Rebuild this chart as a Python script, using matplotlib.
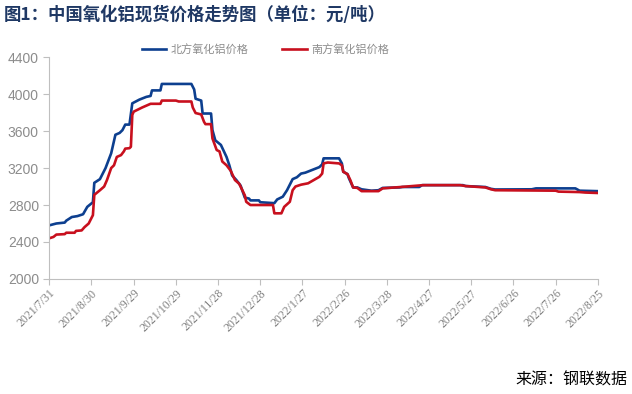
import matplotlib
matplotlib.use("Agg")
import matplotlib.pyplot as plt
import pandas as pd

plt.rcParams['font.family'] = ['Noto Sans CJK SC', 'DejaVu Sans']

# 北方氧化铝价格
north_dates = ["2021-07-31", "2021-08-05", "2021-08-11", "2021-08-12", "2021-08-16", "2021-08-20",
               "2021-08-24", "2021-08-27", "2021-08-31", "2021-09-01", "2021-09-05", "2021-09-09",
               "2021-09-13", "2021-09-16", "2021-09-19", "2021-09-21", "2021-09-23", "2021-09-26",
               "2021-09-28", "2021-10-03", "2021-10-08", "2021-10-11", "2021-10-12", "2021-10-18",
               "2021-10-19", "2021-11-09", "2021-11-11", "2021-11-12", "2021-11-16", "2021-11-17",
               "2021-11-23", "2021-11-24", "2021-11-26", "2021-11-30", "2021-12-04", "2021-12-06",
               "2021-12-08", "2021-12-11", "2021-12-14", "2021-12-17", "2021-12-20", "2021-12-21",
               "2021-12-27", "2021-12-28", "2022-01-07", "2022-01-09", "2022-01-13", "2022-01-16",
               "2022-01-20", "2022-01-23", "2022-01-26", "2022-01-29", "2022-02-08", "2022-02-10",
               "2022-02-11", "2022-02-22", "2022-02-24", "2022-02-25", "2022-02-28", "2022-03-01",
               "2022-03-04", "2022-03-07", "2022-03-10", "2022-03-17", "2022-03-22", "2022-03-25",
               "2022-04-06", "2022-04-08", "2022-04-20", "2022-04-22", "2022-05-21", "2022-05-23",
               "2022-06-06", "2022-06-10", "2022-06-13", "2022-07-09", "2022-07-12", "2022-08-09",
               "2022-08-12", "2022-08-25"]
north_vals = [2580, 2600, 2610, 2630, 2670, 2680,
              2700, 2780, 2830, 3040, 3080, 3200,
              3360, 3560, 3580, 3610, 3670, 3670,
              3900, 3940, 3970, 3980, 4040, 4040,
              4110, 4110, 4050, 3950, 3930, 3790,
              3790, 3610, 3500, 3450, 3320, 3230,
              3120, 3070, 3010, 2880, 2870, 2850,
              2850, 2830, 2820, 2860, 2890, 2960,
              3080, 3100, 3140, 3150, 3210, 3240,
              3305, 3305, 3250, 3160, 3134, 3090,
              2990, 2990, 2970, 2955, 2960, 2985,
              2990, 2995, 2995, 3015, 3015, 3005,
              2995, 2975, 2968, 2970, 2980, 2980,
              2955, 2950]

# 南方氧化铝价格
south_dates = ["2021-07-31", "2021-08-03", "2021-08-05", "2021-08-11", "2021-08-12", "2021-08-18",
               "2021-08-19", "2021-08-23", "2021-08-25", "2021-08-28", "2021-08-31", "2021-09-01",
               "2021-09-05", "2021-09-08", "2021-09-10", "2021-09-13", "2021-09-15", "2021-09-17",
               "2021-09-20", "2021-09-22", "2021-09-23", "2021-09-26", "2021-09-27", "2021-09-28",
               "2021-09-29", "2021-10-05", "2021-10-11", "2021-10-18", "2021-10-19", "2021-10-29",
               "2021-10-31", "2021-11-09", "2021-11-10", "2021-11-12", "2021-11-16", "2021-11-18",
               "2021-11-19", "2021-11-23", "2021-11-24", "2021-11-27", "2021-11-29", "2021-12-01",
               "2021-12-04", "2021-12-07", "2021-12-10", "2021-12-13", "2021-12-17", "2021-12-18",
               "2021-12-21", "2022-01-06", "2022-01-07", "2022-01-12", "2022-01-14", "2022-01-18",
               "2022-01-20", "2022-01-22", "2022-01-26", "2022-01-31", "2022-02-08", "2022-02-10",
               "2022-02-11", "2022-02-14", "2022-02-22", "2022-02-24", "2022-02-25", "2022-02-28",
               "2022-03-02", "2022-03-04", "2022-03-07", "2022-03-10", "2022-03-22", "2022-03-25",
               "2022-04-07", "2022-04-23", "2022-05-19", "2022-05-23", "2022-06-06", "2022-06-10",
               "2022-06-13", "2022-07-26", "2022-07-28", "2022-08-12", "2022-08-16", "2022-08-25"]
south_vals = [2440, 2455, 2480, 2485, 2500, 2500,
              2520, 2525, 2560, 2600, 2690, 2910,
              2960, 3000, 3070, 3200, 3230, 3320,
              3340, 3380, 3410, 3415, 3430, 3775,
              3810, 3855, 3895, 3895, 3930, 3930,
              3920, 3920, 3855, 3795, 3780, 3700,
              3675, 3675, 3520, 3395, 3380, 3270,
              3230, 3170, 3070, 3030, 2905, 2835,
              2800, 2800, 2710, 2710, 2780, 2835,
              2960, 3000, 3020, 3035, 3105, 3140,
              3250, 3260, 3250, 3230, 3160, 3134,
              3070, 2990, 2985, 2950, 2950, 2980,
              2995, 3015, 3015, 3005, 2990, 2970,
              2960, 2955, 2945, 2940, 2935, 2930]

tick_dates = pd.date_range("2021-07-31", periods=14, freq="30D")
tick_labels = [f"{d.year}/{d.month}/{d.day}" for d in tick_dates]

fig = plt.figure(figsize=(6.32, 3.94), dpi=100)
ax = fig.add_axes([0.078, 0.292, 0.868, 0.563])

ax.plot(pd.to_datetime(north_dates), north_vals, color="#0d3f8f", lw=1.9, label="北方氧化铝价格")
ax.plot(pd.to_datetime(south_dates), south_vals, color="#c8101e", lw=1.9, label="南方氧化铝价格")

ax.set_ylim(2000, 4400)
ax.set_yticks(range(2000, 4401, 400))
ax.set_xlim(tick_dates[0], tick_dates[-1])
ax.set_xticks(tick_dates)
ax.set_xticklabels(tick_labels, rotation=45, ha="right", rotation_mode="anchor",
                   fontsize=8.5, family="Liberation Serif")
for t in ax.get_yticklabels():
    t.set_family("Liberation Sans")
    t.set_fontsize(10)

for s in ["top", "right"]:
    ax.spines[s].set_visible(False)
for s in ["left", "bottom"]:
    ax.spines[s].set_color("#bfbfbf")
ax.tick_params(axis="both", color="#bfbfbf", length=4, width=0.8)
ax.tick_params(axis="x", pad=2, labelcolor="#7f7f7f")
ax.tick_params(axis="y", labelcolor="#8c8c8c")

leg = fig.legend(loc="upper center", bbox_to_anchor=(0.42, 0.915), ncol=2, frameon=False,
                 fontsize=8, handlelength=2.2, handletextpad=0.4, columnspacing=3.0)
for t in leg.get_texts():
    t.set_color("#8c8c8c")

fig.text(0.006, 0.963, "图1：中国氧化铝现货价格走势图（单位：元/吨）", fontsize=12.5,
         fontweight="bold", color="#1f3864", va="center")
fig.text(0.993, 0.035, "来源：钢联数据", fontsize=11.5, color="black", ha="right", va="center")

fig.savefig("out.png", dpi=100)
